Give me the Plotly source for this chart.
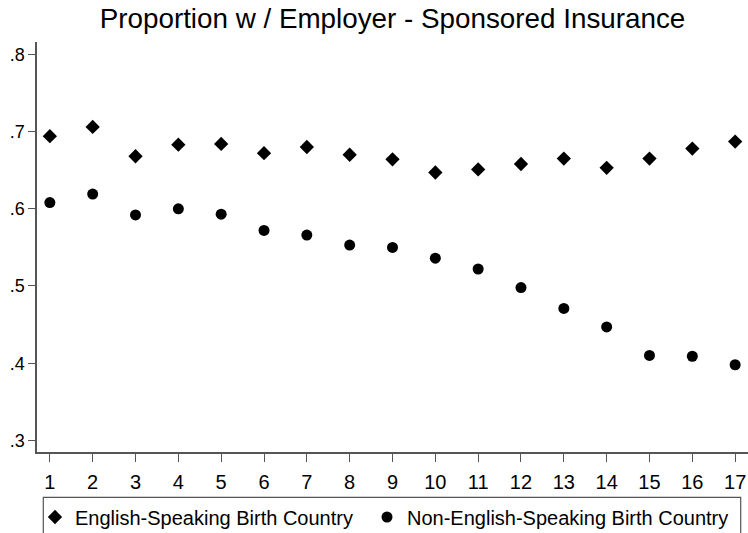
import plotly.graph_objects as go

# values
periods = list(range(1, 18))
english = [0.694, 0.706, 0.668, 0.683, 0.684, 0.672, 0.680, 0.670, 0.664,
           0.647, 0.651, 0.658, 0.665, 0.653, 0.665, 0.678, 0.687]
non_english = [0.608, 0.619, 0.592, 0.600, 0.593, 0.572, 0.566, 0.553, 0.550,
               0.536, 0.522, 0.498, 0.471, 0.447, 0.410, 0.409, 0.398]
ytick_vals = [0.3, 0.4, 0.5, 0.6, 0.7, 0.8]
ytick_text = [".3", ".4", ".5", ".6", ".7", ".8"]

FONT = "Liberation Sans, Arial, sans-serif"
AXIS_COLOR = "#555555"


def main():
    fig = go.Figure()
    fig.add_trace(go.Scatter(x=periods, y=english, mode="markers",
                             name="English-Speaking Birth Country", legend="legend",
                             marker=dict(symbol="diamond", size=11, color="black")))
    fig.add_trace(go.Scatter(x=periods, y=non_english, mode="markers",
                             name="Non-English-Speaking Birth Country", legend="legend2",
                             marker=dict(symbol="circle", size=11, color="black")))

    leg = dict(orientation="h", xanchor="left", y=-0.111, yanchor="top",
               font=dict(size=20, family=FONT, color="black"),
               bgcolor="rgba(0,0,0,0)", borderwidth=0)
    fig.update_layout(
        width=748, height=533,
        margin=dict(l=37, r=0, t=42, b=81, autoexpand=False),
        paper_bgcolor="white", plot_bgcolor="white",
        font=dict(family=FONT, color="black"),
        title=dict(text="Proportion w / Employer - Sponsored Insurance",
                   x=0.5, xref="paper", xanchor="center",
                   y=1 - 18 / 533, yref="container", yanchor="middle",
                   font=dict(size=27.8, family=FONT, color="black")),
        showlegend=True,
        legend=dict(leg, x=-2 / 711),
        legend2=dict(leg, x=330 / 711),
    )
    # legend frame (runs past the bottom edge like the original)
    fig.add_shape(type="rect", xref="paper", yref="paper",
                  x0=(43.3 - 37) / 711, x1=(740.7 - 37) / 711,
                  y0=-0.3, y1=-(497.7 - 452.3) / 410,
                  line=dict(color=AXIS_COLOR, width=1.2), layer="above")

    fig.update_xaxes(range=[0.7, 17.3], tickvals=periods, ticks="outside",
                     ticklen=8, tickcolor=AXIS_COLOR, tickwidth=1.2,
                     ticklabelstandoff=3,
                     showline=True, linecolor=AXIS_COLOR, linewidth=1.5,
                     showgrid=False, zeroline=False, automargin=False,
                     tickfont=dict(size=20, family=FONT, color="black"))
    fig.update_yaxes(range=[0.285, 0.816], tickvals=ytick_vals, ticktext=ytick_text,
                     ticks="outside", ticklen=7, tickcolor=AXIS_COLOR, tickwidth=1.2,
                     showline=True, linecolor=AXIS_COLOR, linewidth=1.5,
                     showgrid=False, zeroline=False, automargin=False,
                     tickfont=dict(size=18, family=FONT, color="black"))

    # the page body has a default 8px margin; drop it so the figure sits at 0,0
    fig.write_html("out.html", config={"displayModeBar": False},
                   post_script="document.body.style.margin = '0px';")


if __name__ == "__main__":
    main()
